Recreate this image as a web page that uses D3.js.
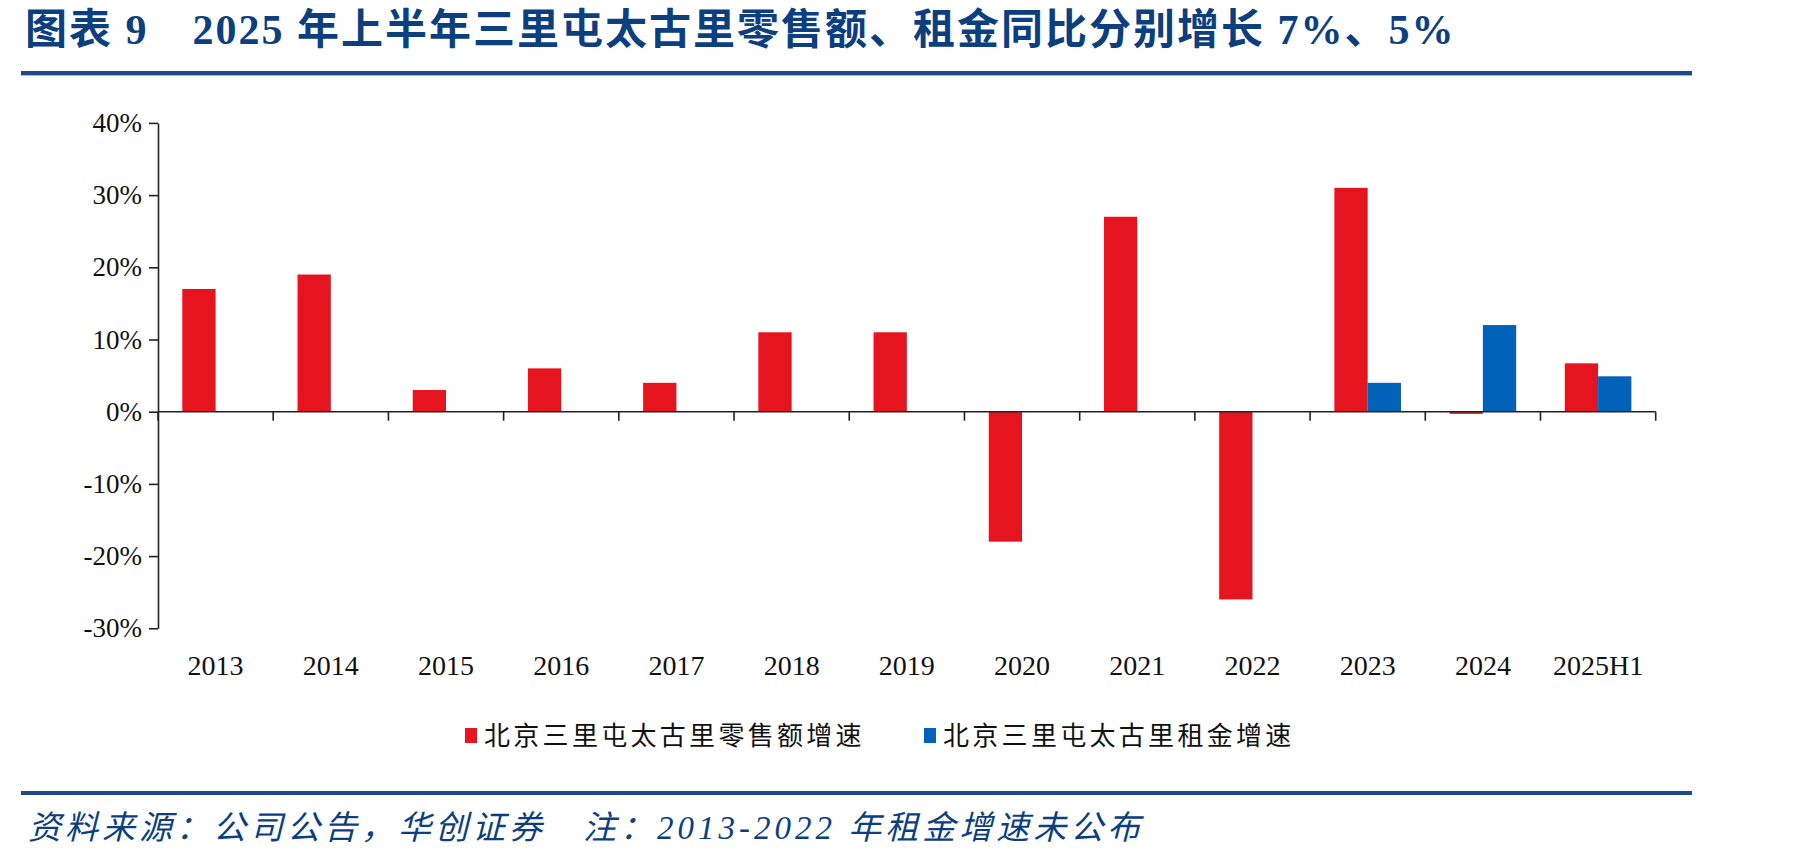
<!DOCTYPE html>
<html><head><meta charset="utf-8">
<script src="https://cdn.jsdelivr.net/npm/d3@7"></script>
<style>
html,body{margin:0;padding:0;background:#fff;}
svg{display:block;}
</style></head>
<body>
<svg id="chart" width="1801" height="860"></svg>
<script>
const titleText = "图表 9　2025 年上半年三里屯太古里零售额、租金同比分别增长 7%、5%";
const sourceText = "资料来源：公司公告，华创证券　注：2013-2022 年租金增速未公布";
const categories = ["2013","2014","2015","2016","2017","2018","2019","2020","2021","2022","2023","2024","2025H1"];
const retailGrowth = [17,19,3,6,4,11,11,-18,27,-26,31,-0.3,6.7];
const rentGrowth = [null,null,null,null,null,null,null,null,null,null,4,12,4.9];
const seriesNames = ["北京三里屯太古里零售额增速","北京三里屯太古里租金增速"];
const yTicks = [-30,-20,-10,0,10,20,30,40];

const colors = ["#E5141E","#0062B8"];
const navy = "#0D3F7F";
const svg = d3.select("#chart");

// Title
svg.append("text").attr("x",25).attr("y",44)
  .attr("font-family","'Liberation Serif','Noto Sans CJK SC',serif")
  .attr("font-weight","bold").attr("font-size",42).attr("letter-spacing",2).attr("fill",navy)
  .text(titleText);
svg.append("rect").attr("x",21).attr("y",71).attr("width",1671).attr("height",4).attr("fill","#1F4A8A");
svg.append("rect").attr("x",21).attr("y",75).attr("width",1671).attr("height",1).attr("fill","#9DB4DA");

// Scales
const x = d3.scaleBand().domain(categories).range([158,1655.7]).padding(0);
const y = d3.scaleLinear().domain([-30,40]).range([628.3,122.9]);
const bw = x.bandwidth()*0.289;
const off = (x.bandwidth()-2*bw)/2;

// Bars
const g = svg.append("g");
const series = [retailGrowth, rentGrowth];
series.forEach((vals,si)=>{
  g.selectAll(".s"+si).data(categories.map((c,i)=>({c,v:vals[i]})).filter(d=>d.v!==null))
    .enter().append("rect")
    .attr("x",d=>x(d.c)+off+si*bw)
    .attr("width",bw)
    .attr("y",d=>y(Math.max(0,d.v)))
    .attr("height",d=>Math.abs(y(d.v)-y(0)))
    .attr("fill",colors[si]);
});

// Y axis
const yAxis = d3.axisLeft(y).tickValues(yTicks).tickSize(9).tickSizeOuter(0).tickPadding(7)
  .tickFormat(d=>d+"%");
const ya = svg.append("g").attr("transform","translate(158,0)").call(yAxis);
ya.selectAll("path,line").attr("stroke","#222").attr("stroke-width",1.6);
ya.selectAll("text").attr("font-family","'Liberation Serif',serif").attr("font-size",27).attr("fill","#111");

// X axis line and boundary ticks
const xa = svg.append("g");
xa.append("line").attr("x1",x.range()[0]).attr("x2",x.range()[1]).attr("y1",y(0)).attr("y2",y(0))
  .attr("stroke","#222").attr("stroke-width",1.6);
const bounds = categories.map(c=>x(c)).concat([x.range()[1]]);
xa.selectAll(".bt").data(bounds).enter().append("line")
  .attr("x1",d=>d).attr("x2",d=>d).attr("y1",y(0)).attr("y2",y(0)+9)
  .attr("stroke","#222").attr("stroke-width",1.6);
xa.selectAll(".xl").data(categories).enter().append("text")
  .attr("x",d=>x(d)+x.bandwidth()/2).attr("y",675)
  .attr("text-anchor","middle")
  .attr("font-family","'Liberation Serif',serif").attr("font-size",28).attr("fill","#111")
  .text(d=>d);

// Legend
const legendX = [465, 924];
seriesNames.forEach((n,i)=>{
  svg.append("rect").attr("x",legendX[i]).attr("y",728).attr("width",12).attr("height",15).attr("fill",colors[i]);
  svg.append("text").attr("x",legendX[i]+19).attr("y",745)
    .attr("font-family","'Noto Sans CJK SC',sans-serif").attr("font-size",26)
    .attr("letter-spacing",3.3).attr("fill","#111").text(n);
});

// Footer
svg.append("rect").attr("x",21).attr("y",791).attr("width",1671).attr("height",4).attr("fill","#1F4A8A");
svg.append("text").attr("x",28).attr("y",839)
  .attr("font-family","'Liberation Serif','Noto Sans CJK SC',serif")
  .attr("font-style","italic").attr("font-size",33).attr("letter-spacing",4).attr("fill",navy)
  .text(sourceText);
</script>
</body></html>
